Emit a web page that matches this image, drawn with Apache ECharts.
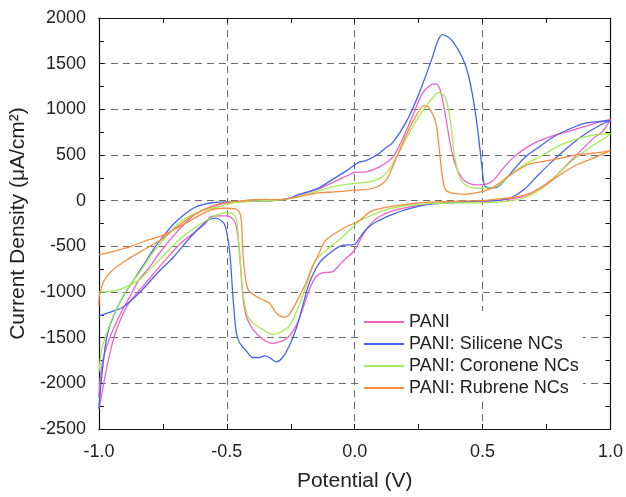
<!DOCTYPE html>
<html>
<head>
<meta charset="utf-8">
<script src="https://cdn.jsdelivr.net/npm/echarts@6/dist/echarts.min.js"></script>
<style>
html,body{margin:0;padding:0;background:#fff;}
#chart{width:626px;height:497px;}
</style>
</head>
<body>
<div id="chart"></div>
<script>
const seriesNames = ['PANI', 'PANI: Silicene NCs', 'PANI: Coronene NCs', 'PANI: Rubrene NCs'];

const paniX = [-1.0,-0.995,-0.985,-0.96,-0.935,-0.908,-0.875,-0.844,-0.8,-0.766,-0.702,-0.66,-0.624,-0.58,-0.547,-0.5,-0.45,-0.4,-0.3,-0.25,-0.217,-0.14,-0.088,-0.04,0.0,0.045,0.097,0.149,0.187,0.226,0.265,0.297,0.317,0.336,0.355,0.375,0.394,0.42,0.446,0.484,0.517,0.545,0.571,0.61,0.649,0.7,0.765,0.829,0.894,0.959,1.0,
  0.97,0.933,0.855,0.791,0.726,0.662,0.597,0.545,0.5,0.4,0.3,0.2,0.15,0.1,0.067,0.035,0.0,-0.049,-0.088,-0.127,-0.152,-0.178,-0.204,-0.23,-0.256,-0.282,-0.321,-0.359,-0.398,-0.424,-0.437,-0.45,-0.462,-0.476,-0.501,-0.534,-0.566,-0.585,-0.676,-0.753,-0.818,-0.883,-0.921,-0.947,-0.973,-0.992,-1.0];
const paniY = [-2150,-1950,-1750,-1518,-1350,-1194,-1030,-870,-720,-581,-364,-240,-148,-90,-58,-25,-10,-5,5,30,65,130,195,260,309,316,370,477,675,926,1177,1267,1278,1195,926,603,388,244,190,172,183,230,321,447,537,628,700,754,808,862,890,
  760,682,465,285,141,50,14,0,-5,-15,-35,-75,-110,-170,-240,-360,-540,-671,-779,-790,-833,-977,-1194,-1374,-1482,-1536,-1562,-1518,-1410,-1266,-1050,-581,-292,-202,-166,-166,-180,-256,-455,-689,-905,-1122,-1338,-1554,-1879,-2167,-2275];

const siliceneX = [-1.0,-0.995,-0.99,-0.98,-0.97,-0.955,-0.93,-0.895,-0.86,-0.82,-0.779,-0.74,-0.708,-0.67,-0.63,-0.59,-0.55,-0.5,-0.45,-0.4,-0.35,-0.3,-0.25,-0.217,-0.18,-0.14,-0.088,-0.036,0.0,0.019,0.041,0.084,0.119,0.149,0.2,0.252,0.304,0.325,0.342,0.36,0.381,0.42,0.446,0.472,0.491,0.504,0.51,0.53,0.545,0.571,0.616,0.662,0.713,0.778,0.829,0.894,0.959,1.0,
  0.959,0.894,0.829,0.765,0.713,0.662,0.61,0.558,0.5,0.455,0.35,0.287,0.196,0.13,0.1,0.067,0.04,0.016,0.0,-0.049,-0.101,-0.14,-0.178,-0.204,-0.23,-0.256,-0.282,-0.307,-0.333,-0.353,-0.372,-0.398,-0.424,-0.45,-0.463,-0.476,-0.488,-0.501,-0.514,-0.547,-0.566,-0.579,-0.643,-0.708,-0.773,-0.837,-0.902,-0.95,-1.0];
const siliceneY = [-2280,-2100,-1950,-1700,-1500,-1350,-1180,-1000,-850,-680,-500,-360,-256,-160,-80,-40,-20,-12,-8,-5,-2,5,30,68,100,141,230,321,390,424,436,495,573,639,854,1177,1572,1750,1817,1800,1752,1572,1357,962,531,208,154,141,141,176,321,465,573,700,771,844,869,875,
  826,717,573,411,267,122,32,3,-5,-11,-28,-40,-100,-170,-210,-260,-330,-420,-478,-490,-581,-689,-905,-1158,-1410,-1591,-1717,-1764,-1717,-1700,-1717,-1717,-1645,-1555,-1446,-1050,-581,-336,-238,-191,-202,-220,-400,-617,-797,-995,-1158,-1215,-1262];

const coroneneX = [-1.0,-0.993,-0.986,-0.96,-0.921,-0.883,-0.844,-0.792,-0.74,-0.676,-0.598,-0.52,-0.47,-0.4,-0.3,-0.25,-0.2,-0.14,-0.088,-0.04,0.0,0.071,0.123,0.161,0.2,0.252,0.304,0.329,0.355,0.375,0.388,0.407,0.433,0.484,0.536,0.558,0.61,0.662,0.726,0.791,0.855,0.933,1.0,
  0.97,0.933,0.855,0.791,0.726,0.662,0.597,0.52,0.4,0.3,0.2,0.15,0.1,0.05,0.016,-0.049,-0.114,-0.152,-0.178,-0.204,-0.23,-0.256,-0.295,-0.321,-0.359,-0.398,-0.418,-0.437,-0.45,-0.462,-0.476,-0.501,-0.52,-0.559,-0.624,-0.689,-0.753,-0.792,-0.844,-0.883,-0.934,-1.0];
const coroneneY = [-1879,-1700,-1590,-1374,-1122,-941,-797,-581,-400,-220,-112,-58,-20,-5,5,25,60,110,150,175,190,215,298,460,675,926,1124,1185,1124,854,531,280,172,136,140,160,285,393,483,592,664,718,736,
  670,610,447,285,123,32,-4,-22,-25,-30,-55,-80,-120,-180,-227,-400,-545,-653,-833,-1050,-1230,-1374,-1446,-1464,-1410,-1338,-1266,-1014,-581,-220,-140,-130,-140,-184,-292,-437,-617,-725,-870,-930,-985,-1000];

const rubreneX = [-1.0,-0.999,-0.99,-0.979,-0.947,-0.883,-0.818,-0.753,-0.689,-0.624,-0.559,-0.5,-0.45,-0.4,-0.35,-0.3,-0.25,-0.2,-0.14,-0.088,-0.04,0.0,0.071,0.123,0.161,0.2,0.239,0.271,0.291,0.317,0.329,0.342,0.355,0.381,0.433,0.497,0.53,0.558,0.61,0.674,0.739,0.804,0.868,0.933,1.0,
  0.96,0.933,0.868,0.804,0.739,0.674,0.61,0.545,0.5,0.4,0.261,0.15,0.067,0.016,-0.049,-0.114,-0.14,-0.166,-0.191,-0.23,-0.256,-0.275,-0.307,-0.333,-0.372,-0.411,-0.424,-0.437,-0.443,-0.45,-0.462,-0.501,-0.553,-0.6,-0.65,-0.702,-0.753,-0.818,-0.883,-0.95,-1.0];
const rubreneY = [-1150,-1050,-950,-870,-761,-635,-527,-419,-274,-148,-60,-15,-5,10,15,10,25,55,85,95,105,115,136,226,460,711,926,1041,1016,854,603,280,118,83,72,100,130,177,285,393,429,465,501,519,548,
  500,465,393,285,159,68,32,14,0,-5,-22,-60,-112,-220,-310,-436,-581,-725,-905,-1122,-1248,-1277,-1230,-1122,-1068,-996,-905,-581,-220,-130,-94,-83,-94,-150,-230,-310,-383,-440,-509,-560,-592];

const colors = ['#f062c4', '#4463f2', '#a2ec55', '#f88c44'];

function pairs(xs, ys) { return xs.map((x, i) => [x, ys[i]]); }

const chart = echarts.init(document.getElementById('chart'));
const FONT = 'Arial, "Liberation Sans", sans-serif';
const gridLine = { show: true, lineStyle: { color: '#6a6a6a', type: [7, 5], width: 1 } };

const option = {
  animation: false,
  backgroundColor: '#fff',
  color: colors,
  grid: { left: 98, right: 13, top: 18, bottom: 63, containLabel: false },
  legend: {
    orient: 'vertical',
    left: 360,
    top: 311,
    data: seriesNames.map(n => ({ name: n, icon: 'rect' })),
    itemWidth: 40,
    itemHeight: 2,
    itemGap: 4,
    backgroundColor: '#fff',
    padding: [2, 4, 2, 4],
    textStyle: { fontFamily: FONT, fontSize: 18, color: '#222', lineHeight: 18 }
  },
  xAxis: [{
    type: 'value', min: -1, max: 1, interval: 0.5,
    name: 'Potential (V)', nameLocation: 'middle', nameGap: 42,
    nameTextStyle: { fontFamily: FONT, fontSize: 21, color: '#222' },
    axisLine: { show: true, onZero: false, lineStyle: { color: '#111', width: 1.2 } },
    axisTick: { show: true, inside: true, length: 5, lineStyle: { color: '#111' } },
    minorTick: { show: true, splitNumber: 2, length: 5, lineStyle: { color: '#111' } },
    axisLabel: { fontFamily: FONT, fontSize: 18, color: '#222', margin: 14, formatter: v => v.toFixed(1) },
    splitLine: gridLine
  }, {
    type: 'value', min: -1, max: 1, interval: 0.5, position: 'top',
    axisLine: { show: true, onZero: false, lineStyle: { color: '#111', width: 1.2 } },
    axisTick: { show: true, inside: true, length: 5, lineStyle: { color: '#111' } },
    minorTick: { show: true, splitNumber: 2, length: 5, lineStyle: { color: '#111' } },
    axisLabel: { show: false }, splitLine: { show: false }
  }],
  yAxis: [{
    type: 'value', min: -2500, max: 2000, interval: 500,
    name: 'Current Density (μA/cm²)', nameLocation: 'middle', nameGap: 54,
    nameTextStyle: { fontFamily: FONT, fontSize: 21, color: '#222' },
    axisLine: { show: true, onZero: false, lineStyle: { color: '#111', width: 1.2 } },
    axisTick: { show: true, inside: true, length: 5, lineStyle: { color: '#111' } },
    minorTick: { show: true, splitNumber: 2, length: 5, lineStyle: { color: '#111' } },
    axisLabel: { fontFamily: FONT, fontSize: 18, color: '#222', margin: 13, formatter: v => String(v) },
    splitLine: gridLine
  }, {
    type: 'value', min: -2500, max: 2000, interval: 500, position: 'right',
    axisLine: { show: true, onZero: false, lineStyle: { color: '#111', width: 1.2 } },
    axisTick: { show: true, inside: true, length: 5, lineStyle: { color: '#111' } },
    minorTick: { show: true, splitNumber: 2, length: 5, lineStyle: { color: '#111' } },
    axisLabel: { show: false }, splitLine: { show: false }
  }],
  series: [
    { name: seriesNames[0], data: pairs(paniX, paniY) },
    { name: seriesNames[1], data: pairs(siliceneX, siliceneY) },
    { name: seriesNames[2], data: pairs(coroneneX, coroneneY) },
    { name: seriesNames[3], data: pairs(rubreneX, rubreneY) }
  ].map((s, i) => Object.assign({
    type: 'line', xAxisIndex: 0, yAxisIndex: 0, symbol: 'none', showSymbol: false,
    smooth: 0.3, lineStyle: { width: 1.3, color: colors[i] }, itemStyle: { color: colors[i] }
  }, s))
};
chart.setOption(option);
</script>
</body>
</html>
